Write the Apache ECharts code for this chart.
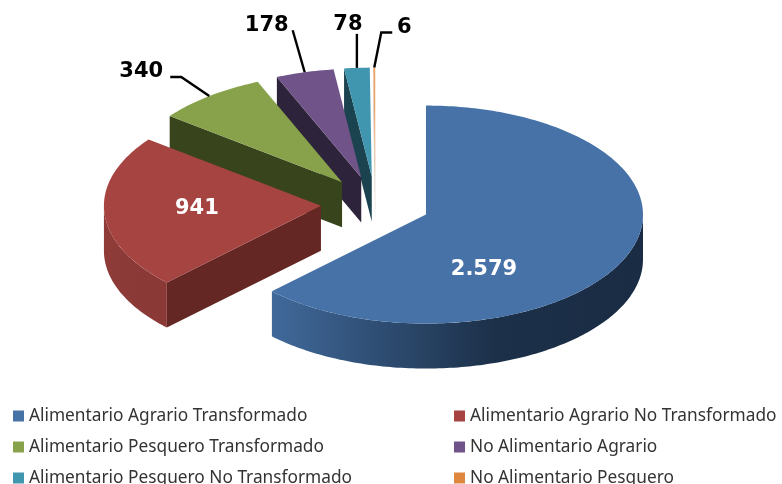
<!DOCTYPE html>
<html>
<head>
<meta charset="utf-8">
<style>html,body{margin:0;padding:0;background:#fff}#c{width:782px;height:484px}</style>
<script src="https://cdn.jsdelivr.net/npm/echarts@6/dist/echarts.min.js"></script>
</head>
<body>
<div id="c"></div>
<script>
var categories = ['Alimentario Agrario Transformado','Alimentario Agrario No Transformado','Alimentario Pesquero Transformado','No Alimentario Agrario','Alimentario Pesquero No Transformado','No Alimentario Pesquero'];
var values = [2579, 941, 340, 178, 78, 6];
var valueLabels = ['2.579', '941', '340', '178', '78', '6'];
var topColors = ['#4672A8', '#A64441', '#87A24B', '#705389', '#4095AF', '#E9A268'];
var wallColors = ['#1B2E47', '#652724', '#38441C', '#2D233A', '#1B424F', '#D8C8B8'];
var rimColors = [['#40699A', '#1C3049', '#1A2C44'], ['#8F3C39', '#8A3936', '#8A3936'], ['#6E853C', '#6E853C', '#6E853C'], ['#5B4370', '#5B4370', '#5B4370'], ['#347A8F', '#347A8F', '#347A8F'], ['#C07830', '#C07830', '#C07830']];
// label placement: inside labels sit at an offset from the slice tip; outside labels use a leader
var insideOffset = [[58, 55], [-124, 3], null, null, null, null];
var leaderBend = [null, null, [-28, -19], [-12, -42], [0, -34], [7, -35]];
var leaderEnd = [null, null, [-11, 0], [0, 0], [0, 0], [11, 0]];
var labelOffset = [null, null, [-29, -6], [-26, -5], [-9, -9], [12, -5]];

var geo = {cx: 375.5, cy: 204, rx: 217, ry: 109, explode: 0.252, depth: 45};
var total = values.reduce(function (a, b) { return a + b; }, 0);
var starts = [];
values.reduce(function (acc, v, i) { starts[i] = acc; return acc + v; }, 0);

function pt(tip, deg, dy) {
  var r = deg * Math.PI / 180;
  return [tip[0] + geo.rx * Math.sin(r), tip[1] - geo.ry * Math.cos(r) + (dy || 0)];
}
function arc(tip, a0, a1, dy) {
  var out = [], n = Math.max(2, Math.ceil(Math.abs(a1 - a0)));
  for (var k = 0; k <= n; k++) out.push(pt(tip, a0 + (a1 - a0) * k / n, dy));
  return out;
}
function renderSlice(i) {
  return function () {
    var a0 = starts[i] / total * 360, a1 = (starts[i] + values[i]) / total * 360, mid = (a0 + a1) / 2;
    var m = mid * Math.PI / 180;
    var tip = [geo.cx + geo.explode * geo.rx * Math.sin(m), geo.cy - geo.explode * geo.ry * Math.cos(m)];
    var kids = [];
    var e = pt(tip, a0);
    kids.push({type: 'polygon', shape: {points: [tip, e, [e[0], e[1] + geo.depth], [tip[0], tip[1] + geo.depth]]}, style: {fill: wallColors[i]}});
    var r0 = Math.max(a0, 90), r1 = Math.min(a1, 270);
    if (r1 > r0) {
      var c = rimColors[i];
      var rim = arc(tip, r0, r1, 0).concat(arc(tip, r1, r0, geo.depth));
      kids.push({type: 'polygon', shape: {points: rim}, style: {fill: new echarts.graphic.LinearGradient(1, 0, 0, 0, [{offset: 0, color: c[2]}, {offset: 0.4, color: c[1]}, {offset: 1, color: c[0]}])}});
    }
    kids.push({type: 'polygon', shape: {points: [tip].concat(arc(tip, a0, a1, 0))}, style: {fill: topColors[i]}});
    if (insideOffset[i]) {
      kids.push({type: 'text', style: {text: valueLabels[i], x: tip[0] + insideOffset[i][0], y: tip[1] + insideOffset[i][1], font: 'bold 21px "DejaVu Sans"', fill: '#fff', align: 'center', verticalAlign: 'middle'}});
    } else {
      var s = pt(tip, mid);
      var b = [s[0] + leaderBend[i][0], s[1] + leaderBend[i][1]];
      var t = [b[0] + leaderEnd[i][0], b[1] + leaderEnd[i][1]];
      kids.push({type: 'polyline', shape: {points: [s, b, t]}, style: {stroke: '#000', lineWidth: 2.4, fill: null}});
      kids.push({type: 'text', style: {text: valueLabels[i], x: t[0] + labelOffset[i][0], y: t[1] + labelOffset[i][1], font: 'bold 21px "DejaVu Sans"', fill: '#000', align: 'center', verticalAlign: 'middle'}});
    }
    return {type: 'group', children: kids};
  };
}
var series = categories.map(function (name, i) {
  return {type: 'custom', name: name, coordinateSystem: 'none', z: 20 - i, silent: true,
    itemStyle: {color: i === 5 ? '#E0873F' : topColors[i]},
    data: [[values[i]]], renderItem: renderSlice(i)};
});
function legend(left, names) {
  return {show: true, orient: 'vertical', left: left, top: 405, height: 120, padding: 0, itemWidth: 11, itemHeight: 11, itemGap: 9, icon: 'rect', selectedMode: false,
    itemStyle: {borderWidth: 0}, textStyle: {fontFamily: 'Noto Sans', fontSize: 17.3, color: '#333', height: 22, lineHeight: 22}, data: names};
}
var chart = echarts.init(document.getElementById('c'), null, {renderer: 'canvas'});
chart.setOption({
  animation: false, backgroundColor: '#fff',
  legend: [legend(13, [categories[0], categories[2], categories[4]]), legend(454, [categories[1], categories[3], categories[5]])],
  series: series
});
</script>
</body>
</html>
